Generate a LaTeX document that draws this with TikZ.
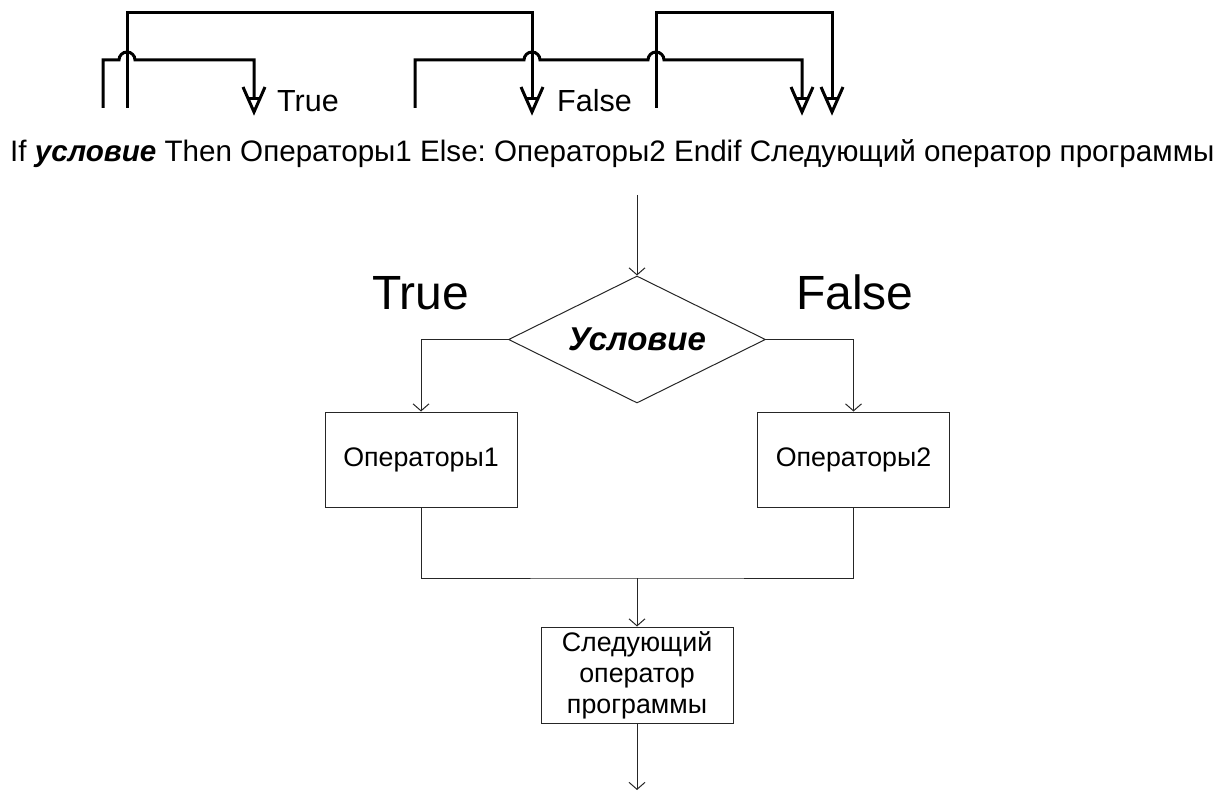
\documentclass[tikz,border=0pt]{standalone}
\usepackage{fontspec}
\setmainfont{Liberation Sans}
\usetikzlibrary{shapes.geometric,arrows.meta}
\frenchspacing
\tikzset{
  thick line/.style={line width=3pt, line join=miter},
  flow/.style={line width=1pt, draw=black!85},
  arr/.style={flow, -{Straight Barb[length=7pt,width=16pt,line width=1pt]}},
  procbox/.style={draw=black!85, line width=1pt, rectangle, minimum width=192pt, minimum height=95pt, inner sep=0pt, align=center, font=\fontsize{26.8}{31}\selectfont},
  decision/.style={draw=black!85, line width=1pt, diamond, aspect=2, minimum width=257pt, minimum height=127pt, inner sep=0pt, font=\fontsize{33}{38}\selectfont\bfseries\itshape},
  smalllabel/.style={anchor=base west, inner sep=0pt, font=\fontsize{30.5}{36}\selectfont},
  biglabel/.style={anchor=base west, inner sep=0pt, font=\fontsize{48}{56}\selectfont},
  linelabel/.style={anchor=base west, inner sep=0pt, font=\fontsize{29.6}{34}\selectfont},
  ytip/.pic={
    \draw[thick line] (-11pt,25pt) -- (0pt,0pt) -- (11pt,25pt);
    \draw[thick line] (-5.8pt,13pt) -- (5.8pt,13pt);
  }
}
\begin{document}
\begin{tikzpicture}[x=1pt,y=-1pt]
\useasboundingbox (0,0) rectangle (1220,794);

% ---------- top schematic ----------
\coordinate (a0) at (103,108);
\coordinate (b0) at (127,108);
\coordinate (c0) at (415,108);
\coordinate (d0) at (656,108);
\coordinate (tT) at (254,112);
\coordinate (tF) at (532,112);
\coordinate (tE) at (802,112);
\coordinate (tN) at (832,112);

\draw[thick line] (a0) -- (103,60) -- (119,60) arc[start angle=180,end angle=0,radius=8pt] -- (254,60) -- (254,99);
\draw[thick line] (b0) -- (127,13) -- (532,13) -- (532,99);
\draw[thick line] (c0) -- (415,60) -- (524,60) arc[start angle=180,end angle=0,radius=8pt] -- (648,60) arc[start angle=180,end angle=0,radius=8pt] -- (802,60) -- (802,99);
\draw[thick line] (d0) -- (656,13) -- (832,13) -- (832,99);
\pic at (tT) {ytip};
\pic at (tF) {ytip};
\pic at (tE) {ytip};
\pic at (tN) {ytip};

\node[smalllabel] (lt) at (277,112) {True};
\node[smalllabel] (lf) at (557,112) {False};

\node[linelabel] (code) at (10,162) {If \textbf{\textit{условие}} Then Операторы1 Else: Операторы2 Endif Следующий оператор программы};

% ---------- flowchart ----------
\coordinate (in) at (637,195);
\node[decision] (dia) at (637,339.5) {Условие};
\node[procbox] (b1) at (421,459.5) {Операторы1};
\node[procbox] (b2) at (853.5,459.5) {Операторы2};
\node[procbox, minimum height=96pt] (b3) at (637,675) {Следующий\\оператор\\программы};
\coordinate (j) at (637,578);
\coordinate (out) at (637,790);

\node[biglabel] (bt) at (372,309) {True};
\node[biglabel] (bf) at (796,309) {False};

\draw[arr] (in) -- (dia.north);
\draw[arr] (dia.west) -| (b1.north);
\draw[arr] (dia.east) -| (b2.north);
\draw[flow] (b1.south) |- (j) -| (b2.south);
\draw[arr] (j) -- (b3.north);
\draw[arr] (b3.south) -- (out);
\end{tikzpicture}
\end{document}
